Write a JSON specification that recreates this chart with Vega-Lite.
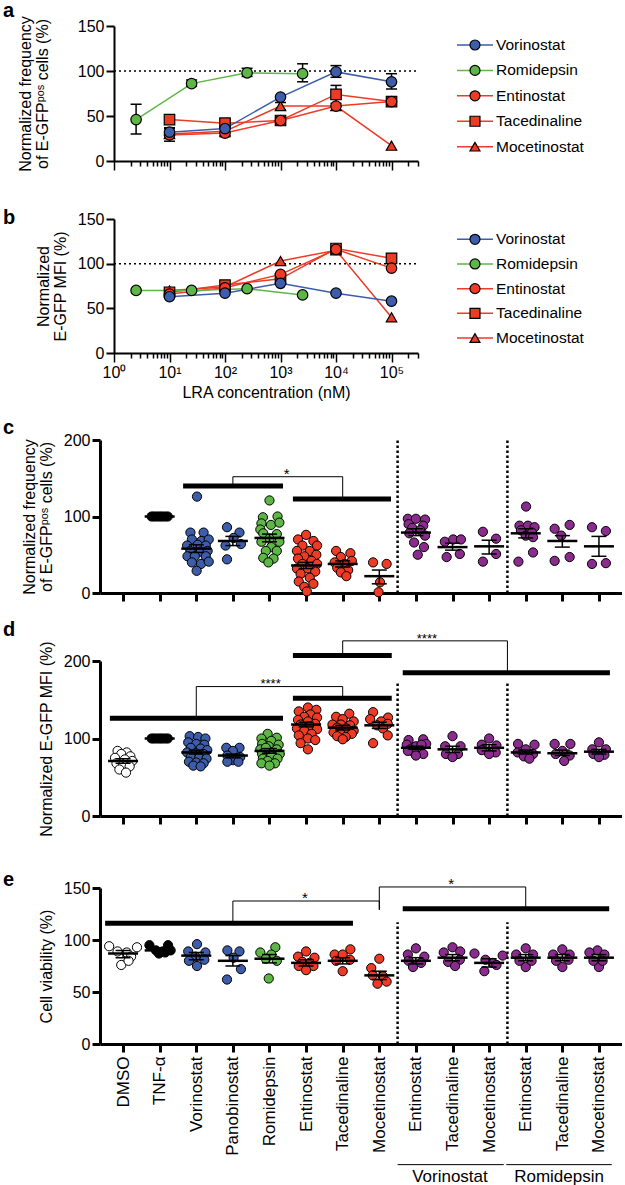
{
  "$schema": "https://vega.github.io/schema/vega-lite/v6.json",
  "background": "white",
  "padding": {"left": 3, "top": 0, "right": 0, "bottom": 0},
  "config": {
    "font": "Liberation Sans",
    "view": {"stroke": null},
    "axis": {"grid": false, "domainColor": "#000000", "tickColor": "#000000", "labelColor": "#000000", "titleColor": "#000000", "titleFontWeight": "normal", "labelFontSize": 16, "titleFontSize": 16, "titleLineHeight": 17, "labelPadding": 2},
    "title": {"fontSize": 20, "fontWeight": "bold", "anchor": "start", "frame": "group", "color": "#000000"},
    "tick": {"opacity": 1},
    "point": {"opacity": 1},
    "circle": {"opacity": 1}
  },
  "datasets": {
    "drugs": [{"drug": "Vorinostat"}, {"drug": "Romidepsin"}, {"drug": "Entinostat"}, {"drug": "Tacedinaline"}, {"drug": "Mocetinostat"}],
    "dose": [
      {"drug": "Mocetinostat", "conc": 10, "freq": 30, "mfi": 70},
      {"drug": "Mocetinostat", "conc": 100, "freq": 33, "mfi": 74},
      {"drug": "Mocetinostat", "conc": 1000, "freq": 61, "mfi": 103},
      {"drug": "Mocetinostat", "conc": 10000, "freq": 61, "mfi": 115},
      {"drug": "Mocetinostat", "conc": 100000, "freq": 17, "mfi": 40},
      {"drug": "Tacedinaline", "conc": 10, "freq": 46, "mfi": 68},
      {"drug": "Tacedinaline", "conc": 100, "freq": 42, "mfi": 76},
      {"drug": "Tacedinaline", "conc": 1000, "freq": 45, "mfi": 83},
      {"drug": "Tacedinaline", "conc": 10000, "freq": 74, "mfi": 117},
      {"drug": "Tacedinaline", "conc": 100000, "freq": 66, "mfi": 106},
      {"drug": "Entinostat", "conc": 10, "freq": 29, "mfi": 66},
      {"drug": "Entinostat", "conc": 100, "freq": 31, "mfi": 73},
      {"drug": "Entinostat", "conc": 1000, "freq": 45, "mfi": 88},
      {"drug": "Entinostat", "conc": 10000, "freq": 61, "mfi": 116},
      {"drug": "Entinostat", "conc": 100000, "freq": 66, "mfi": 95},
      {"drug": "Romidepsin", "conc": 2.5, "freq": 46, "mfi": 70},
      {"drug": "Romidepsin", "conc": 25, "freq": 86, "mfi": 70},
      {"drug": "Romidepsin", "conc": 250, "freq": 98, "mfi": 72},
      {"drug": "Romidepsin", "conc": 2500, "freq": 97, "mfi": 65},
      {"drug": "Vorinostat", "conc": 10, "freq": 32, "mfi": 63},
      {"drug": "Vorinostat", "conc": 100, "freq": 36, "mfi": 67},
      {"drug": "Vorinostat", "conc": 1000, "freq": 71, "mfi": 78},
      {"drug": "Vorinostat", "conc": 10000, "freq": 99, "mfi": 67},
      {"drug": "Vorinostat", "conc": 100000, "freq": 88, "mfi": 58}
    ],
    "doseErr": [
      {"drug": "Romidepsin", "conc": 2.5, "lo": 30, "hi": 63},
      {"drug": "Romidepsin", "conc": 25, "lo": 83, "hi": 90},
      {"drug": "Romidepsin", "conc": 250, "lo": 94, "hi": 103},
      {"drug": "Romidepsin", "conc": 2500, "lo": 88, "hi": 108},
      {"drug": "Vorinostat", "conc": 10, "lo": 27, "hi": 37},
      {"drug": "Vorinostat", "conc": 10000, "lo": 93, "hi": 106},
      {"drug": "Vorinostat", "conc": 100000, "lo": 80, "hi": 97},
      {"drug": "Entinostat", "conc": 10, "lo": 22, "hi": 36},
      {"drug": "Entinostat", "conc": 100, "lo": 27, "hi": 36},
      {"drug": "Tacedinaline", "conc": 10000, "lo": 64, "hi": 84},
      {"drug": "Tacedinaline", "conc": 100, "lo": 38, "hi": 46},
      {"drug": "Mocetinostat", "conc": 1000, "lo": 57, "hi": 65}
    ],
    "cPoints": [
      {"x": 1.78, "v": 100, "group": "TNF-α"}, {"x": 1.85, "v": 100, "group": "TNF-α"}, {"x": 1.93, "v": 100, "group": "TNF-α"}, {"x": 2.0, "v": 100, "group": "TNF-α"}, {"x": 2.07, "v": 100, "group": "TNF-α"}, {"x": 2.15, "v": 100, "group": "TNF-α"}, {"x": 2.22, "v": 100, "group": "TNF-α"},
      {"x": 3.02, "v": 126, "group": "pan-HDACi"}, {"x": 2.84, "v": 79, "group": "pan-HDACi"}, {"x": 3.2, "v": 79, "group": "pan-HDACi"}, {"x": 2.88, "v": 70, "group": "pan-HDACi"}, {"x": 3.14, "v": 68, "group": "pan-HDACi"}, {"x": 3.34, "v": 70, "group": "pan-HDACi"}, {"x": 2.75, "v": 62, "group": "pan-HDACi"}, {"x": 3.04, "v": 63, "group": "pan-HDACi"}, {"x": 3.26, "v": 62, "group": "pan-HDACi"}, {"x": 2.84, "v": 55, "group": "pan-HDACi"}, {"x": 3.11, "v": 54, "group": "pan-HDACi"}, {"x": 3.31, "v": 55, "group": "pan-HDACi"}, {"x": 2.76, "v": 48, "group": "pan-HDACi"}, {"x": 2.96, "v": 48, "group": "pan-HDACi"}, {"x": 3.26, "v": 48, "group": "pan-HDACi"}, {"x": 2.88, "v": 40, "group": "pan-HDACi"}, {"x": 3.13, "v": 38, "group": "pan-HDACi"}, {"x": 3.34, "v": 41, "group": "pan-HDACi"}, {"x": 3.01, "v": 29, "group": "pan-HDACi"},
      {"x": 3.84, "v": 86, "group": "pan-HDACi"}, {"x": 4.18, "v": 79, "group": "pan-HDACi"}, {"x": 4.02, "v": 72, "group": "pan-HDACi"}, {"x": 4.22, "v": 64, "group": "pan-HDACi"}, {"x": 3.8, "v": 62, "group": "pan-HDACi"}, {"x": 3.84, "v": 44, "group": "pan-HDACi"},
      {"x": 5.0, "v": 121, "group": "romidepsin"}, {"x": 4.82, "v": 99, "group": "romidepsin"}, {"x": 5.22, "v": 100, "group": "romidepsin"}, {"x": 4.78, "v": 91, "group": "romidepsin"}, {"x": 5.04, "v": 89, "group": "romidepsin"}, {"x": 5.27, "v": 92, "group": "romidepsin"}, {"x": 4.75, "v": 83, "group": "romidepsin"}, {"x": 4.83, "v": 78, "group": "romidepsin"}, {"x": 5.2, "v": 77, "group": "romidepsin"}, {"x": 5.0, "v": 71, "group": "romidepsin"}, {"x": 4.78, "v": 67, "group": "romidepsin"}, {"x": 5.27, "v": 67, "group": "romidepsin"}, {"x": 5.05, "v": 60, "group": "romidepsin"}, {"x": 4.9, "v": 55, "group": "romidepsin"}, {"x": 5.2, "v": 55, "group": "romidepsin"}, {"x": 4.83, "v": 46, "group": "romidepsin"}, {"x": 5.11, "v": 45, "group": "romidepsin"}, {"x": 4.97, "v": 40, "group": "romidepsin"},
      {"x": 6.0, "v": 76, "group": "class I HDACi"}, {"x": 5.78, "v": 70, "group": "class I HDACi"}, {"x": 6.2, "v": 68, "group": "class I HDACi"}, {"x": 6.3, "v": 62, "group": "class I HDACi"}, {"x": 5.9, "v": 62, "group": "class I HDACi"}, {"x": 5.75, "v": 55, "group": "class I HDACi"}, {"x": 6.1, "v": 55, "group": "class I HDACi"}, {"x": 6.28, "v": 50, "group": "class I HDACi"}, {"x": 5.95, "v": 48, "group": "class I HDACi"}, {"x": 5.78, "v": 45, "group": "class I HDACi"}, {"x": 6.15, "v": 42, "group": "class I HDACi"}, {"x": 5.9, "v": 38, "group": "class I HDACi"}, {"x": 6.3, "v": 38, "group": "class I HDACi"}, {"x": 5.75, "v": 32, "group": "class I HDACi"}, {"x": 6.05, "v": 32, "group": "class I HDACi"}, {"x": 6.25, "v": 28, "group": "class I HDACi"}, {"x": 5.85, "v": 25, "group": "class I HDACi"}, {"x": 6.1, "v": 20, "group": "class I HDACi"}, {"x": 5.8, "v": 15, "group": "class I HDACi"}, {"x": 6.2, "v": 12, "group": "class I HDACi"}, {"x": 5.95, "v": 8, "group": "class I HDACi"}, {"x": 6.02, "v": 2, "group": "class I HDACi"},
      {"x": 6.82, "v": 55, "group": "class I HDACi"}, {"x": 7.21, "v": 52, "group": "class I HDACi"}, {"x": 6.95, "v": 47, "group": "class I HDACi"}, {"x": 7.25, "v": 42, "group": "class I HDACi"}, {"x": 6.78, "v": 40, "group": "class I HDACi"}, {"x": 7.05, "v": 38, "group": "class I HDACi"}, {"x": 6.85, "v": 33, "group": "class I HDACi"}, {"x": 7.15, "v": 30, "group": "class I HDACi"}, {"x": 6.95, "v": 27, "group": "class I HDACi"}, {"x": 7.1, "v": 22, "group": "class I HDACi"},
      {"x": 7.83, "v": 40, "group": "class I HDACi"}, {"x": 8.2, "v": 38, "group": "class I HDACi"}, {"x": 8.02, "v": 14, "group": "class I HDACi"}, {"x": 7.98, "v": 1, "group": "class I HDACi"},
      {"x": 8.78, "v": 97, "group": "combination"}, {"x": 9.0, "v": 97, "group": "combination"}, {"x": 9.25, "v": 96, "group": "combination"}, {"x": 8.8, "v": 90, "group": "combination"}, {"x": 9.2, "v": 88, "group": "combination"}, {"x": 8.9, "v": 85, "group": "combination"}, {"x": 9.12, "v": 82, "group": "combination"}, {"x": 8.82, "v": 78, "group": "combination"}, {"x": 9.25, "v": 75, "group": "combination"}, {"x": 8.95, "v": 66, "group": "combination"}, {"x": 9.22, "v": 60, "group": "combination"}, {"x": 9.05, "v": 50, "group": "combination"},
      {"x": 9.79, "v": 67, "group": "combination"}, {"x": 10.02, "v": 70, "group": "combination"}, {"x": 10.23, "v": 70, "group": "combination"}, {"x": 9.84, "v": 47, "group": "combination"}, {"x": 10.2, "v": 51, "group": "combination"},
      {"x": 10.83, "v": 80, "group": "combination"}, {"x": 11.19, "v": 71, "group": "combination"}, {"x": 11.19, "v": 51, "group": "combination"}, {"x": 10.83, "v": 41, "group": "combination"},
      {"x": 12.01, "v": 113, "group": "combination"}, {"x": 11.83, "v": 88, "group": "combination"}, {"x": 12.06, "v": 88, "group": "combination"}, {"x": 12.24, "v": 86, "group": "combination"}, {"x": 11.87, "v": 82, "group": "combination"}, {"x": 12.17, "v": 79, "group": "combination"}, {"x": 12.0, "v": 75, "group": "combination"}, {"x": 12.2, "v": 73, "group": "combination"}, {"x": 12.2, "v": 53, "group": "combination"}, {"x": 11.8, "v": 41, "group": "combination"},
      {"x": 12.79, "v": 84, "group": "combination"}, {"x": 13.2, "v": 89, "group": "combination"}, {"x": 12.97, "v": 75, "group": "combination"}, {"x": 12.79, "v": 42, "group": "combination"}, {"x": 13.2, "v": 47, "group": "combination"},
      {"x": 13.81, "v": 86, "group": "combination"}, {"x": 14.19, "v": 81, "group": "combination"}, {"x": 13.81, "v": 38, "group": "combination"}, {"x": 14.19, "v": 39, "group": "combination"}
    ],
    "cMeans": [
      {"cat": 2, "mean": 100, "lo": 100, "hi": 100}, {"cat": 3, "mean": 58, "lo": 53, "hi": 63}, {"cat": 4, "mean": 68, "lo": 62, "hi": 74}, {"cat": 5, "mean": 72, "lo": 67, "hi": 77}, {"cat": 6, "mean": 36, "lo": 32, "hi": 40}, {"cat": 7, "mean": 38, "lo": 34, "hi": 42}, {"cat": 8, "mean": 22, "lo": 12, "hi": 30}, {"cat": 9, "mean": 79, "lo": 75, "hi": 84}, {"cat": 10, "mean": 60, "lo": 56, "hi": 65}, {"cat": 11, "mean": 61, "lo": 51, "hi": 69}, {"cat": 12, "mean": 78, "lo": 72, "hi": 84}, {"cat": 13, "mean": 68, "lo": 60, "hi": 75}, {"cat": 14, "mean": 61, "lo": 48, "hi": 74}
    ],
    "cBars": [{"x": 2.64, "x2": 5.37, "y": 140}, {"x": 5.64, "x2": 8.32, "y": 123}],
    "cBrackets": [{"x": 4, "x2": 4, "y": 140, "y2": 152}, {"x": 4, "x2": 7, "y": 152, "y2": 152}, {"x": 7, "x2": 7, "y": 152, "y2": 123}],
    "cStars": [{"x": 5.47, "y": 155, "label": "*"}],
    "dPoints": [
      {"x": 0.85, "v": 84, "group": "DMSO"}, {"x": 1.1, "v": 82, "group": "DMSO"}, {"x": 0.95, "v": 80, "group": "DMSO"}, {"x": 1.2, "v": 77, "group": "DMSO"}, {"x": 0.78, "v": 75, "group": "DMSO"}, {"x": 1.05, "v": 73, "group": "DMSO"}, {"x": 1.25, "v": 71, "group": "DMSO"}, {"x": 0.82, "v": 68, "group": "DMSO"}, {"x": 1.0, "v": 66, "group": "DMSO"}, {"x": 1.18, "v": 64, "group": "DMSO"}, {"x": 0.9, "v": 60, "group": "DMSO"}, {"x": 1.08, "v": 56, "group": "DMSO"},
      {"x": 1.78, "v": 100, "group": "TNF-α"}, {"x": 1.85, "v": 100, "group": "TNF-α"}, {"x": 1.93, "v": 100, "group": "TNF-α"}, {"x": 2.0, "v": 100, "group": "TNF-α"}, {"x": 2.07, "v": 100, "group": "TNF-α"}, {"x": 2.15, "v": 100, "group": "TNF-α"}, {"x": 2.22, "v": 100, "group": "TNF-α"},
      {"x": 2.82, "v": 103, "group": "pan-HDACi"}, {"x": 3.05, "v": 102, "group": "pan-HDACi"}, {"x": 3.25, "v": 100, "group": "pan-HDACi"}, {"x": 2.78, "v": 95, "group": "pan-HDACi"}, {"x": 3.0, "v": 93, "group": "pan-HDACi"}, {"x": 3.22, "v": 92, "group": "pan-HDACi"}, {"x": 2.85, "v": 88, "group": "pan-HDACi"}, {"x": 3.12, "v": 87, "group": "pan-HDACi"}, {"x": 3.3, "v": 85, "group": "pan-HDACi"}, {"x": 2.75, "v": 82, "group": "pan-HDACi"}, {"x": 2.98, "v": 81, "group": "pan-HDACi"}, {"x": 3.2, "v": 80, "group": "pan-HDACi"}, {"x": 2.85, "v": 76, "group": "pan-HDACi"}, {"x": 3.08, "v": 75, "group": "pan-HDACi"}, {"x": 3.28, "v": 74, "group": "pan-HDACi"}, {"x": 2.8, "v": 70, "group": "pan-HDACi"}, {"x": 3.0, "v": 69, "group": "pan-HDACi"}, {"x": 3.2, "v": 68, "group": "pan-HDACi"}, {"x": 2.92, "v": 65, "group": "pan-HDACi"}, {"x": 3.12, "v": 64, "group": "pan-HDACi"},
      {"x": 3.82, "v": 88, "group": "pan-HDACi"}, {"x": 4.18, "v": 88, "group": "pan-HDACi"}, {"x": 4.0, "v": 84, "group": "pan-HDACi"}, {"x": 3.85, "v": 78, "group": "pan-HDACi"}, {"x": 4.2, "v": 76, "group": "pan-HDACi"}, {"x": 4.0, "v": 72, "group": "pan-HDACi"}, {"x": 3.85, "v": 70, "group": "pan-HDACi"}, {"x": 4.15, "v": 70, "group": "pan-HDACi"},
      {"x": 4.95, "v": 106, "group": "romidepsin"}, {"x": 4.78, "v": 100, "group": "romidepsin"}, {"x": 5.2, "v": 101, "group": "romidepsin"}, {"x": 5.05, "v": 97, "group": "romidepsin"}, {"x": 4.8, "v": 93, "group": "romidepsin"}, {"x": 5.25, "v": 92, "group": "romidepsin"}, {"x": 4.98, "v": 90, "group": "romidepsin"}, {"x": 4.75, "v": 86, "group": "romidepsin"}, {"x": 5.2, "v": 86, "group": "romidepsin"}, {"x": 5.0, "v": 83, "group": "romidepsin"}, {"x": 4.8, "v": 80, "group": "romidepsin"}, {"x": 5.28, "v": 80, "group": "romidepsin"}, {"x": 5.05, "v": 77, "group": "romidepsin"}, {"x": 4.82, "v": 74, "group": "romidepsin"}, {"x": 5.22, "v": 74, "group": "romidepsin"}, {"x": 4.95, "v": 71, "group": "romidepsin"}, {"x": 4.78, "v": 68, "group": "romidepsin"}, {"x": 5.15, "v": 68, "group": "romidepsin"}, {"x": 5.0, "v": 65, "group": "romidepsin"}, {"x": 4.9, "v": 88, "group": "romidepsin"},
      {"x": 6.05, "v": 140, "group": "class I HDACi"}, {"x": 6.28, "v": 137, "group": "class I HDACi"}, {"x": 5.8, "v": 135, "group": "class I HDACi"}, {"x": 6.12, "v": 131, "group": "class I HDACi"}, {"x": 5.95, "v": 128, "group": "class I HDACi"}, {"x": 6.3, "v": 127, "group": "class I HDACi"}, {"x": 5.78, "v": 124, "group": "class I HDACi"}, {"x": 6.05, "v": 122, "group": "class I HDACi"}, {"x": 6.25, "v": 119, "group": "class I HDACi"}, {"x": 5.85, "v": 118, "group": "class I HDACi"}, {"x": 6.1, "v": 116, "group": "class I HDACi"}, {"x": 5.75, "v": 113, "group": "class I HDACi"}, {"x": 6.3, "v": 112, "group": "class I HDACi"}, {"x": 5.95, "v": 110, "group": "class I HDACi"}, {"x": 6.15, "v": 106, "group": "class I HDACi"}, {"x": 5.8, "v": 104, "group": "class I HDACi"}, {"x": 6.05, "v": 100, "group": "class I HDACi"}, {"x": 6.25, "v": 98, "group": "class I HDACi"}, {"x": 5.85, "v": 94, "group": "class I HDACi"}, {"x": 6.05, "v": 86, "group": "class I HDACi"},
      {"x": 7.18, "v": 132, "group": "class I HDACi"}, {"x": 6.82, "v": 128, "group": "class I HDACi"}, {"x": 7.0, "v": 125, "group": "class I HDACi"}, {"x": 7.3, "v": 122, "group": "class I HDACi"}, {"x": 6.72, "v": 118, "group": "class I HDACi"}, {"x": 6.95, "v": 118, "group": "class I HDACi"}, {"x": 7.2, "v": 117, "group": "class I HDACi"}, {"x": 6.85, "v": 114, "group": "class I HDACi"}, {"x": 7.1, "v": 113, "group": "class I HDACi"}, {"x": 7.3, "v": 110, "group": "class I HDACi"}, {"x": 6.75, "v": 108, "group": "class I HDACi"}, {"x": 6.95, "v": 106, "group": "class I HDACi"}, {"x": 7.25, "v": 106, "group": "class I HDACi"}, {"x": 6.85, "v": 103, "group": "class I HDACi"}, {"x": 7.08, "v": 102, "group": "class I HDACi"}, {"x": 7.0, "v": 99, "group": "class I HDACi"},
      {"x": 7.83, "v": 134, "group": "class I HDACi"}, {"x": 8.24, "v": 127, "group": "class I HDACi"}, {"x": 7.75, "v": 125, "group": "class I HDACi"}, {"x": 8.05, "v": 122, "group": "class I HDACi"}, {"x": 8.23, "v": 119, "group": "class I HDACi"}, {"x": 7.94, "v": 117, "group": "class I HDACi"}, {"x": 8.1, "v": 113, "group": "class I HDACi"}, {"x": 8.23, "v": 104, "group": "class I HDACi"}, {"x": 7.83, "v": 94, "group": "class I HDACi"},
      {"x": 8.8, "v": 98, "group": "combination"}, {"x": 9.2, "v": 99, "group": "combination"}, {"x": 8.75, "v": 92, "group": "combination"}, {"x": 9.0, "v": 90, "group": "combination"}, {"x": 9.28, "v": 93, "group": "combination"}, {"x": 8.85, "v": 86, "group": "combination"}, {"x": 9.1, "v": 85, "group": "combination"}, {"x": 8.95, "v": 82, "group": "combination"}, {"x": 9.2, "v": 80, "group": "combination"}, {"x": 9.0, "v": 78, "group": "combination"}, {"x": 8.78, "v": 84, "group": "combination"}, {"x": 9.15, "v": 92, "group": "combination"},
      {"x": 10.0, "v": 103, "group": "combination"}, {"x": 9.8, "v": 90, "group": "combination"}, {"x": 10.22, "v": 90, "group": "combination"}, {"x": 9.82, "v": 80, "group": "combination"}, {"x": 10.15, "v": 80, "group": "combination"}, {"x": 10.0, "v": 76, "group": "combination"},
      {"x": 11.0, "v": 100, "group": "combination"}, {"x": 10.8, "v": 92, "group": "combination"}, {"x": 11.2, "v": 91, "group": "combination"}, {"x": 10.8, "v": 85, "group": "combination"}, {"x": 11.18, "v": 82, "group": "combination"}, {"x": 11.0, "v": 80, "group": "combination"},
      {"x": 11.79, "v": 93, "group": "combination"}, {"x": 12.24, "v": 92, "group": "combination"}, {"x": 12.0, "v": 86, "group": "combination"}, {"x": 11.78, "v": 82, "group": "combination"}, {"x": 12.2, "v": 80, "group": "combination"}, {"x": 11.95, "v": 77, "group": "combination"}, {"x": 12.1, "v": 74, "group": "combination"},
      {"x": 12.79, "v": 93, "group": "combination"}, {"x": 13.22, "v": 93, "group": "combination"}, {"x": 13.0, "v": 84, "group": "combination"}, {"x": 12.82, "v": 80, "group": "combination"}, {"x": 13.2, "v": 78, "group": "combination"}, {"x": 13.05, "v": 71, "group": "combination"},
      {"x": 14.0, "v": 95, "group": "combination"}, {"x": 13.82, "v": 86, "group": "combination"}, {"x": 14.19, "v": 86, "group": "combination"}, {"x": 13.85, "v": 80, "group": "combination"}, {"x": 14.15, "v": 79, "group": "combination"}, {"x": 14.0, "v": 76, "group": "combination"}
    ],
    "dMeans": [
      {"cat": 1, "mean": 71, "lo": 68, "hi": 74}, {"cat": 2, "mean": 100, "lo": 100, "hi": 100}, {"cat": 3, "mean": 82, "lo": 80, "hi": 85}, {"cat": 4, "mean": 78, "lo": 75, "hi": 80}, {"cat": 5, "mean": 84, "lo": 81, "hi": 87}, {"cat": 6, "mean": 118, "lo": 115, "hi": 121}, {"cat": 7, "mean": 114, "lo": 111, "hi": 117}, {"cat": 8, "mean": 117, "lo": 113, "hi": 121}, {"cat": 9, "mean": 88, "lo": 86, "hi": 90}, {"cat": 10, "mean": 86, "lo": 82, "hi": 90}, {"cat": 11, "mean": 88, "lo": 84, "hi": 92}, {"cat": 12, "mean": 82, "lo": 80, "hi": 85}, {"cat": 13, "mean": 81, "lo": 78, "hi": 85}, {"cat": 14, "mean": 83, "lo": 80, "hi": 86}
    ],
    "dBars": [{"x": 0.64, "x2": 5.37, "y": 126}, {"x": 5.64, "x2": 8.34, "y": 152}, {"x": 5.64, "x2": 8.34, "y": 207}, {"x": 8.64, "x2": 14.3, "y": 185}],
    "dBrackets": [{"x": 3, "x2": 3, "y": 126, "y2": 167}, {"x": 3, "x2": 7, "y": 167, "y2": 167}, {"x": 7, "x2": 7, "y": 167, "y2": 152}, {"x": 7, "x2": 7, "y": 207, "y2": 226}, {"x": 7, "x2": 11.5, "y": 226, "y2": 226}, {"x": 11.5, "x2": 11.5, "y": 226, "y2": 185}],
    "dStars": [{"x": 5.03, "y": 170, "label": "****"}, {"x": 9.3, "y": 229, "label": "****"}],
    "ePoints": [
      {"x": 0.62, "v": 94, "group": "DMSO"}, {"x": 0.85, "v": 89, "group": "DMSO"}, {"x": 1.1, "v": 88, "group": "DMSO"}, {"x": 1.38, "v": 93, "group": "DMSO"}, {"x": 1.22, "v": 84, "group": "DMSO"}, {"x": 0.95, "v": 76, "group": "DMSO"}, {"x": 1.15, "v": 80, "group": "DMSO"},
      {"x": 1.72, "v": 95, "group": "TNF-α"}, {"x": 2.23, "v": 95, "group": "TNF-α"}, {"x": 1.9, "v": 90, "group": "TNF-α"}, {"x": 2.08, "v": 89, "group": "TNF-α"}, {"x": 2.3, "v": 90, "group": "TNF-α"}, {"x": 1.98, "v": 87, "group": "TNF-α"}, {"x": 2.15, "v": 88, "group": "TNF-α"},
      {"x": 3.02, "v": 96, "group": "pan-HDACi"}, {"x": 2.78, "v": 89, "group": "pan-HDACi"}, {"x": 3.25, "v": 88, "group": "pan-HDACi"}, {"x": 2.98, "v": 84, "group": "pan-HDACi"}, {"x": 2.8, "v": 80, "group": "pan-HDACi"}, {"x": 3.22, "v": 81, "group": "pan-HDACi"}, {"x": 3.02, "v": 75, "group": "pan-HDACi"},
      {"x": 3.85, "v": 90, "group": "pan-HDACi"}, {"x": 4.18, "v": 89, "group": "pan-HDACi"}, {"x": 4.02, "v": 83, "group": "pan-HDACi"}, {"x": 4.22, "v": 72, "group": "pan-HDACi"}, {"x": 3.84, "v": 62, "group": "pan-HDACi"},
      {"x": 5.16, "v": 93, "group": "romidepsin"}, {"x": 4.75, "v": 88, "group": "romidepsin"}, {"x": 5.05, "v": 86, "group": "romidepsin"}, {"x": 4.9, "v": 82, "group": "romidepsin"}, {"x": 5.2, "v": 80, "group": "romidepsin"}, {"x": 4.98, "v": 63, "group": "romidepsin"},
      {"x": 6.0, "v": 89, "group": "class I HDACi"}, {"x": 5.78, "v": 84, "group": "class I HDACi"}, {"x": 6.23, "v": 83, "group": "class I HDACi"}, {"x": 5.9, "v": 79, "group": "class I HDACi"}, {"x": 6.1, "v": 78, "group": "class I HDACi"}, {"x": 5.8, "v": 75, "group": "class I HDACi"}, {"x": 6.2, "v": 75, "group": "class I HDACi"}, {"x": 6.0, "v": 71, "group": "class I HDACi"},
      {"x": 7.21, "v": 91, "group": "class I HDACi"}, {"x": 6.78, "v": 86, "group": "class I HDACi"}, {"x": 7.0, "v": 86, "group": "class I HDACi"}, {"x": 6.82, "v": 80, "group": "class I HDACi"}, {"x": 7.2, "v": 81, "group": "class I HDACi"}, {"x": 7.0, "v": 70, "group": "class I HDACi"},
      {"x": 8.0, "v": 82, "group": "class I HDACi"}, {"x": 7.78, "v": 73, "group": "class I HDACi"}, {"x": 7.82, "v": 66, "group": "class I HDACi"}, {"x": 8.1, "v": 65, "group": "class I HDACi"}, {"x": 8.2, "v": 60, "group": "class I HDACi"}, {"x": 7.95, "v": 58, "group": "class I HDACi"},
      {"x": 9.0, "v": 92, "group": "combination"}, {"x": 8.78, "v": 86, "group": "combination"}, {"x": 9.23, "v": 84, "group": "combination"}, {"x": 8.8, "v": 80, "group": "combination"}, {"x": 9.14, "v": 78, "group": "combination"}, {"x": 8.92, "v": 74, "group": "combination"},
      {"x": 10.0, "v": 93, "group": "combination"}, {"x": 9.76, "v": 88, "group": "combination"}, {"x": 10.21, "v": 89, "group": "combination"}, {"x": 9.88, "v": 79, "group": "combination"}, {"x": 10.2, "v": 81, "group": "combination"}, {"x": 10.07, "v": 75, "group": "combination"},
      {"x": 10.6, "v": 87, "group": "combination"}, {"x": 11.37, "v": 85, "group": "combination"}, {"x": 11.1, "v": 78, "group": "combination"}, {"x": 10.87, "v": 70, "group": "combination"}, {"x": 10.9, "v": 81, "group": "combination"}, {"x": 11.2, "v": 76, "group": "combination"},
      {"x": 12.0, "v": 92, "group": "combination"}, {"x": 11.74, "v": 86, "group": "combination"}, {"x": 12.2, "v": 86, "group": "combination"}, {"x": 12.0, "v": 74, "group": "combination"}, {"x": 11.83, "v": 80, "group": "combination"}, {"x": 12.16, "v": 80, "group": "combination"},
      {"x": 13.0, "v": 91, "group": "combination"}, {"x": 12.75, "v": 86, "group": "combination"}, {"x": 13.2, "v": 86, "group": "combination"}, {"x": 13.0, "v": 74, "group": "combination"}, {"x": 12.83, "v": 80, "group": "combination"}, {"x": 13.17, "v": 81, "group": "combination"},
      {"x": 13.96, "v": 90, "group": "combination"}, {"x": 13.74, "v": 88, "group": "combination"}, {"x": 14.15, "v": 86, "group": "combination"}, {"x": 14.0, "v": 74, "group": "combination"}, {"x": 13.85, "v": 80, "group": "combination"}, {"x": 14.1, "v": 80, "group": "combination"}
    ],
    "eMeans": [
      {"cat": 1, "mean": 87, "lo": 83, "hi": 90}, {"cat": 2, "mean": 90, "lo": 89, "hi": 92}, {"cat": 3, "mean": 85, "lo": 81, "hi": 88}, {"cat": 4, "mean": 80, "lo": 75, "hi": 85}, {"cat": 5, "mean": 82, "lo": 78, "hi": 86}, {"cat": 6, "mean": 78, "lo": 75, "hi": 81}, {"cat": 7, "mean": 80, "lo": 77, "hi": 83}, {"cat": 8, "mean": 66, "lo": 62, "hi": 70}, {"cat": 9, "mean": 80, "lo": 77, "hi": 83}, {"cat": 10, "mean": 83, "lo": 80, "hi": 86}, {"cat": 11, "mean": 78, "lo": 74, "hi": 82}, {"cat": 12, "mean": 83, "lo": 80, "hi": 86}, {"cat": 13, "mean": 83, "lo": 80, "hi": 86}, {"cat": 14, "mean": 83, "lo": 80, "hi": 86}
    ],
    "eBars": [{"x": 0.51, "x2": 7.28, "y": 116}, {"x": 8.64, "x2": 14.28, "y": 130}],
    "eBrackets": [{"x": 4, "x2": 4, "y": 116, "y2": 137.5}, {"x": 4, "x2": 8, "y": 137.5, "y2": 137.5}, {"x": 8, "x2": 8, "y": 137.5, "y2": 129}, {"x": 8, "x2": 8, "y": 129, "y2": 151}, {"x": 8, "x2": 12, "y": 151, "y2": 151}, {"x": 12, "x2": 12, "y": 151, "y2": 130}],
    "eStars": [{"x": 5.97, "y": 140, "label": "*"}, {"x": 9.96, "y": 153.5, "label": "*"}],
    "combos": [{"label": "Vorinostat", "from": 8.5, "to": 11.4, "mid": 9.93}, {"label": "Romidepsin", "from": 11.47, "to": 14.35, "mid": 12.91}]
  },
  "columns": 1,
  "align": "none",
  "spacing": 36,
  "concat": [
    {
      "title": {"text": "a", "dx": -97, "offset": -5},
      "width": 318, "height": 135,
      "resolve": {"scale": {"x": "independent", "y": "independent"}},
      "layer": [
        {"layer": [
          {"data": {"values": [{"ref": 100}]}, "mark": {"type": "rule", "strokeDash": [2, 3], "strokeWidth": 1.5, "color": "#000000"},
           "encoding": {"x": {"datum": 1, "type": "quantitative"}, "x2": {"datum": 300000},
             "y": {"field": "ref", "type": "quantitative", "scale": {"domain": [0, 150], "nice": false}, "axis": {"title": ["Normalized frequency", "of E-GFPᵖᵒˢ cells (%)"], "values": [0, 50, 100, 150], "offset": -14, "tickSize": 8, "tickWidth": 2, "domainWidth": 2, "titlePadding": 27}}}},
          {"data": {"name": "dose"}, "mark": {"type": "line", "strokeWidth": 1.5},
           "encoding": {"x": {"field": "conc", "type": "quantitative", "scale": {"type": "log", "domain": [1, 300000], "range": [14, 318], "nice": false}, "axis": {"title": null, "labels": false, "tickWidth": 1.5, "domainWidth": 2, "tickSize": {"condition": {"test": "abs(log(datum.value)/LN10 - round(log(datum.value)/LN10)) < 0.001", "value": 9}, "value": 5}}},
             "y": {"field": "freq", "type": "quantitative"},
             "color": {"field": "drug", "type": "nominal", "legend": null, "scale": {"domain": ["Vorinostat", "Romidepsin", "Entinostat", "Tacedinaline", "Mocetinostat", "DMSO", "TNF-α", "pan-HDACi", "romidepsin", "class I HDACi", "combination"], "range": ["#3d5ca9", "#5db646", "#ed3b26", "#ed3b26", "#ed3b26", "#ffffff", "#000000", "#3d5ca9", "#5db646", "#ed3b26", "#8b2b8e"]}}}},
          {"data": {"name": "doseErr"}, "mark": {"type": "rule", "strokeWidth": 1.5, "color": "#000000"},
           "encoding": {"x": {"field": "conc", "type": "quantitative"}, "y": {"field": "lo", "type": "quantitative"}, "y2": {"field": "hi"}}},
          {"data": {"name": "doseErr"}, "mark": {"type": "tick", "orient": "horizontal", "size": 11, "thickness": 1.5, "color": "#000000", "opacity": 1},
           "encoding": {"x": {"field": "conc", "type": "quantitative"}, "y": {"field": "lo", "type": "quantitative"}}},
          {"data": {"name": "doseErr"}, "mark": {"type": "tick", "orient": "horizontal", "size": 11, "thickness": 1.5, "color": "#000000", "opacity": 1},
           "encoding": {"x": {"field": "conc", "type": "quantitative"}, "y": {"field": "hi", "type": "quantitative"}}},
          {"data": {"name": "dose"}, "mark": {"type": "point", "filled": true, "size": 110, "stroke": "#000000", "strokeWidth": 1.2, "opacity": 1},
           "encoding": {"x": {"field": "conc", "type": "quantitative"}, "y": {"field": "freq", "type": "quantitative"},
             "color": {"field": "drug", "type": "nominal", "legend": null, "scale": {"domain": ["Vorinostat", "Romidepsin", "Entinostat", "Tacedinaline", "Mocetinostat", "DMSO", "TNF-α", "pan-HDACi", "romidepsin", "class I HDACi", "combination"], "range": ["#3d5ca9", "#5db646", "#ed3b26", "#ed3b26", "#ed3b26", "#ffffff", "#000000", "#3d5ca9", "#5db646", "#ed3b26", "#8b2b8e"]}},
             "shape": {"field": "drug", "type": "nominal", "legend": null, "scale": {"domain": ["Vorinostat", "Romidepsin", "Entinostat", "Tacedinaline", "Mocetinostat"], "range": ["circle", "circle", "circle", "square", "triangle-up"]}}}}
        ]},
        {"data": {"name": "drugs"},
         "encoding": {"y": {"field": "drug", "type": "nominal", "sort": null, "scale": {"type": "point", "padding": 0.655, "align": 0.57}, "axis": null}},
         "layer": [
          {"mark": {"type": "rule", "strokeWidth": 1.5},
           "encoding": {"x": {"datum": 1.1226, "type": "quantitative", "scale": {"domain": [0, 1], "nice": false, "zero": false}, "axis": null}, "x2": {"datum": 1.2358},
             "color": {"field": "drug", "type": "nominal", "legend": null, "scale": {"domain": ["Vorinostat", "Romidepsin", "Entinostat", "Tacedinaline", "Mocetinostat", "DMSO", "TNF-α", "pan-HDACi", "romidepsin", "class I HDACi", "combination"], "range": ["#3d5ca9", "#5db646", "#ed3b26", "#ed3b26", "#ed3b26", "#ffffff", "#000000", "#3d5ca9", "#5db646", "#ed3b26", "#8b2b8e"]}}}},
          {"mark": {"type": "point", "filled": true, "size": 100, "stroke": "#000000", "strokeWidth": 1.2, "opacity": 1},
           "encoding": {"x": {"datum": 1.1792, "type": "quantitative", "axis": null},
             "color": {"field": "drug", "type": "nominal", "legend": null, "scale": {"domain": ["Vorinostat", "Romidepsin", "Entinostat", "Tacedinaline", "Mocetinostat", "DMSO", "TNF-α", "pan-HDACi", "romidepsin", "class I HDACi", "combination"], "range": ["#3d5ca9", "#5db646", "#ed3b26", "#ed3b26", "#ed3b26", "#ffffff", "#000000", "#3d5ca9", "#5db646", "#ed3b26", "#8b2b8e"]}},
             "shape": {"field": "drug", "type": "nominal", "legend": null, "scale": {"domain": ["Vorinostat", "Romidepsin", "Entinostat", "Tacedinaline", "Mocetinostat"], "range": ["circle", "circle", "circle", "square", "triangle-up"]}}}},
          {"mark": {"type": "text", "align": "left", "baseline": "middle", "fontSize": 15.5, "color": "#000000"},
           "encoding": {"x": {"datum": 1.2453, "type": "quantitative", "axis": null}, "text": {"field": "drug"}}}
         ]}
      ]
    },
    {
      "columns": 1,
      "align": "none",
      "spacing": 18,
      "concat": [
        {
          "title": {"text": "b", "dx": -97, "offset": -17},
          "width": 318, "height": 134,
          "resolve": {"scale": {"x": "independent", "y": "independent"}},
          "layer": [
            {"layer": [
              {"data": {"values": [{"ref": 100}]}, "mark": {"type": "rule", "strokeDash": [2, 3], "strokeWidth": 1.5, "color": "#000000"},
               "encoding": {"x": {"datum": 1, "type": "quantitative"}, "x2": {"datum": 300000},
                 "y": {"field": "ref", "type": "quantitative", "scale": {"domain": [0, 150], "nice": false}, "axis": {"title": ["Normalized", "E-GFP MFI (%)"], "values": [0, 50, 100, 150], "offset": -14, "tickSize": 8, "tickWidth": 2, "domainWidth": 2, "titlePadding": 9}}}},
              {"data": {"name": "dose"}, "mark": {"type": "line", "strokeWidth": 1.5},
               "encoding": {"x": {"field": "conc", "type": "quantitative", "scale": {"type": "log", "domain": [1, 300000], "range": [14, 318], "nice": false}, "axis": {"title": "LRA concentration (nM)", "titlePadding": 4, "labelOverlap": false, "labelFlush": false, "labelPadding": 2, "labelExpr": "abs(log(datum.value)/LN10 - round(log(datum.value)/LN10)) < 0.001 ? '10' + ['⁰','¹','²','³','⁴','⁵'][round(log(datum.value)/LN10)] : ''", "tickWidth": 1.5, "domainWidth": 2, "tickSize": {"condition": {"test": "abs(log(datum.value)/LN10 - round(log(datum.value)/LN10)) < 0.001", "value": 9}, "value": 5}}},
                 "y": {"field": "mfi", "type": "quantitative"},
                 "color": {"field": "drug", "type": "nominal", "legend": null, "scale": {"domain": ["Vorinostat", "Romidepsin", "Entinostat", "Tacedinaline", "Mocetinostat", "DMSO", "TNF-α", "pan-HDACi", "romidepsin", "class I HDACi", "combination"], "range": ["#3d5ca9", "#5db646", "#ed3b26", "#ed3b26", "#ed3b26", "#ffffff", "#000000", "#3d5ca9", "#5db646", "#ed3b26", "#8b2b8e"]}}}},
              {"data": {"name": "dose"}, "mark": {"type": "point", "filled": true, "size": 110, "stroke": "#000000", "strokeWidth": 1.2, "opacity": 1},
               "encoding": {"x": {"field": "conc", "type": "quantitative"}, "y": {"field": "mfi", "type": "quantitative"},
                 "color": {"field": "drug", "type": "nominal", "legend": null, "scale": {"domain": ["Vorinostat", "Romidepsin", "Entinostat", "Tacedinaline", "Mocetinostat", "DMSO", "TNF-α", "pan-HDACi", "romidepsin", "class I HDACi", "combination"], "range": ["#3d5ca9", "#5db646", "#ed3b26", "#ed3b26", "#ed3b26", "#ffffff", "#000000", "#3d5ca9", "#5db646", "#ed3b26", "#8b2b8e"]}},
                 "shape": {"field": "drug", "type": "nominal", "legend": null, "scale": {"domain": ["Vorinostat", "Romidepsin", "Entinostat", "Tacedinaline", "Mocetinostat"], "range": ["circle", "circle", "circle", "square", "triangle-up"]}}}}
            ]},
            {"data": {"name": "drugs"},
             "encoding": {"y": {"field": "drug", "type": "nominal", "sort": null, "scale": {"type": "point", "padding": 0.715, "align": 0.575}, "axis": null}},
             "layer": [
              {"mark": {"type": "rule", "strokeWidth": 1.5},
               "encoding": {"x": {"datum": 1.1226, "type": "quantitative", "scale": {"domain": [0, 1], "nice": false, "zero": false}, "axis": null}, "x2": {"datum": 1.2358},
                 "color": {"field": "drug", "type": "nominal", "legend": null, "scale": {"domain": ["Vorinostat", "Romidepsin", "Entinostat", "Tacedinaline", "Mocetinostat", "DMSO", "TNF-α", "pan-HDACi", "romidepsin", "class I HDACi", "combination"], "range": ["#3d5ca9", "#5db646", "#ed3b26", "#ed3b26", "#ed3b26", "#ffffff", "#000000", "#3d5ca9", "#5db646", "#ed3b26", "#8b2b8e"]}}}},
              {"mark": {"type": "point", "filled": true, "size": 100, "stroke": "#000000", "strokeWidth": 1.2, "opacity": 1},
               "encoding": {"x": {"datum": 1.1792, "type": "quantitative", "axis": null},
                 "color": {"field": "drug", "type": "nominal", "legend": null, "scale": {"domain": ["Vorinostat", "Romidepsin", "Entinostat", "Tacedinaline", "Mocetinostat", "DMSO", "TNF-α", "pan-HDACi", "romidepsin", "class I HDACi", "combination"], "range": ["#3d5ca9", "#5db646", "#ed3b26", "#ed3b26", "#ed3b26", "#ffffff", "#000000", "#3d5ca9", "#5db646", "#ed3b26", "#8b2b8e"]}},
                 "shape": {"field": "drug", "type": "nominal", "legend": null, "scale": {"domain": ["Vorinostat", "Romidepsin", "Entinostat", "Tacedinaline", "Mocetinostat"], "range": ["circle", "circle", "circle", "square", "triangle-up"]}}}},
              {"mark": {"type": "text", "align": "left", "baseline": "middle", "fontSize": 15.5, "color": "#000000"},
               "encoding": {"x": {"datum": 1.2453, "type": "quantitative", "axis": null}, "text": {"field": "drug"}}}
             ]}
          ]
        },
        {
          "columns": 1,
          "align": "none",
          "spacing": 16,
          "concat": [
            {
              "title": {"text": "c", "dx": -97, "offset": -6},
              "width": 522, "height": 153,
              "layer": [
                {"data": {"values": [{"sx": 8.5, "y0": 0, "y1": 200}, {"sx": 11.5, "y0": 0, "y1": 200}]}, "mark": {"type": "rule", "strokeDash": [2.5, 2.5], "strokeWidth": 2.5, "color": "#000000"},
                 "encoding": {"x": {"field": "sx", "type": "quantitative", "scale": {"domain": [0.37, 14.63], "nice": false, "zero": false}, "axis": {"title": null, "values": [1, 2, 3, 4, 5, 6, 7, 8, 9, 10, 11, 12, 13, 14], "labels": false, "tickSize": 8, "tickWidth": 3, "domainWidth": 3}},
                   "y": {"field": "y0", "type": "quantitative", "scale": {"domain": [0, 200], "nice": false}, "axis": {"title": ["Normalized frequency", "of E-GFPᵖᵒˢ cells (%)"], "values": [0, 100, 200], "tickSize": 8, "tickWidth": 3, "domainWidth": 3, "titlePadding": 9}},
                   "y2": {"field": "y1"}}},
                {"data": {"name": "cPoints"}, "mark": {"type": "circle", "size": 85, "stroke": "#000000", "strokeWidth": 1, "opacity": 1},
                 "encoding": {"x": {"field": "x", "type": "quantitative"}, "y": {"field": "v", "type": "quantitative"},
                   "color": {"field": "group", "type": "nominal", "legend": null, "scale": {"domain": ["Vorinostat", "Romidepsin", "Entinostat", "Tacedinaline", "Mocetinostat", "DMSO", "TNF-α", "pan-HDACi", "romidepsin", "class I HDACi", "combination"], "range": ["#3d5ca9", "#5db646", "#ed3b26", "#ed3b26", "#ed3b26", "#ffffff", "#000000", "#3d5ca9", "#5db646", "#ed3b26", "#8b2b8e"]}}}},
                {"data": {"name": "cMeans"}, "mark": {"type": "tick", "orient": "horizontal", "size": 30, "thickness": 2.5, "color": "#000000", "opacity": 1},
                 "encoding": {"x": {"field": "cat", "type": "quantitative"}, "y": {"field": "mean", "type": "quantitative"}}},
                {"data": {"name": "cMeans"}, "mark": {"type": "rule", "strokeWidth": 1.5, "color": "#000000"},
                 "encoding": {"x": {"field": "cat", "type": "quantitative"}, "y": {"field": "lo", "type": "quantitative"}, "y2": {"field": "hi"}}},
                {"data": {"name": "cMeans"}, "mark": {"type": "tick", "orient": "horizontal", "size": 15, "thickness": 1.5, "color": "#000000", "opacity": 1},
                 "encoding": {"x": {"field": "cat", "type": "quantitative"}, "y": {"field": "lo", "type": "quantitative"}}},
                {"data": {"name": "cMeans"}, "mark": {"type": "tick", "orient": "horizontal", "size": 15, "thickness": 1.5, "color": "#000000", "opacity": 1},
                 "encoding": {"x": {"field": "cat", "type": "quantitative"}, "y": {"field": "hi", "type": "quantitative"}}},
                {"data": {"name": "cBars"}, "mark": {"type": "rule", "strokeWidth": 5, "color": "#000000"},
                 "encoding": {"x": {"field": "x", "type": "quantitative"}, "x2": {"field": "x2"}, "y": {"field": "y", "type": "quantitative"}}},
                {"data": {"name": "cBrackets"}, "mark": {"type": "rule", "strokeWidth": 1, "color": "#000000"},
                 "encoding": {"x": {"field": "x", "type": "quantitative"}, "x2": {"field": "x2"}, "y": {"field": "y", "type": "quantitative"}, "y2": {"field": "y2"}}},
                {"data": {"name": "cStars"}, "mark": {"type": "text", "fontSize": 15, "baseline": "middle", "color": "#000000"},
                 "encoding": {"x": {"field": "x", "type": "quantitative"}, "y": {"field": "y", "type": "quantitative"}, "text": {"field": "label"}}}
              ]
            },
            {
              "columns": 1,
              "align": "none",
              "spacing": 33,
              "concat": [
                {
                  "title": {"text": "d", "dx": -97, "offset": -7},
                  "width": 522, "height": 155,
                  "layer": [
                    {"data": {"values": [{"sx": 8.5, "y0": 0, "y1": 173}, {"sx": 11.5, "y0": 0, "y1": 173}]}, "mark": {"type": "rule", "strokeDash": [2.5, 2.5], "strokeWidth": 2.5, "color": "#000000"},
                     "encoding": {"x": {"field": "sx", "type": "quantitative", "scale": {"domain": [0.37, 14.63], "nice": false, "zero": false}, "axis": {"title": null, "values": [1, 2, 3, 4, 5, 6, 7, 8, 9, 10, 11, 12, 13, 14], "labels": false, "tickSize": 8, "tickWidth": 3, "domainWidth": 3}},
                       "y": {"field": "y0", "type": "quantitative", "scale": {"domain": [0, 200], "nice": false}, "axis": {"title": "Normalized E-GFP MFI (%)", "values": [0, 100, 200], "tickSize": 8, "tickWidth": 3, "domainWidth": 3, "titlePadding": 9}},
                       "y2": {"field": "y1"}}},
                    {"data": {"name": "dPoints"}, "mark": {"type": "circle", "size": 85, "stroke": "#000000", "strokeWidth": 1, "opacity": 1},
                     "encoding": {"x": {"field": "x", "type": "quantitative"}, "y": {"field": "v", "type": "quantitative"},
                       "color": {"field": "group", "type": "nominal", "legend": null, "scale": {"domain": ["Vorinostat", "Romidepsin", "Entinostat", "Tacedinaline", "Mocetinostat", "DMSO", "TNF-α", "pan-HDACi", "romidepsin", "class I HDACi", "combination"], "range": ["#3d5ca9", "#5db646", "#ed3b26", "#ed3b26", "#ed3b26", "#ffffff", "#000000", "#3d5ca9", "#5db646", "#ed3b26", "#8b2b8e"]}}}},
                    {"data": {"name": "dMeans"}, "mark": {"type": "tick", "orient": "horizontal", "size": 30, "thickness": 2.5, "color": "#000000", "opacity": 1},
                     "encoding": {"x": {"field": "cat", "type": "quantitative"}, "y": {"field": "mean", "type": "quantitative"}}},
                    {"data": {"name": "dMeans"}, "mark": {"type": "rule", "strokeWidth": 1.5, "color": "#000000"},
                     "encoding": {"x": {"field": "cat", "type": "quantitative"}, "y": {"field": "lo", "type": "quantitative"}, "y2": {"field": "hi"}}},
                    {"data": {"name": "dMeans"}, "mark": {"type": "tick", "orient": "horizontal", "size": 15, "thickness": 1.5, "color": "#000000", "opacity": 1},
                     "encoding": {"x": {"field": "cat", "type": "quantitative"}, "y": {"field": "lo", "type": "quantitative"}}},
                    {"data": {"name": "dMeans"}, "mark": {"type": "tick", "orient": "horizontal", "size": 15, "thickness": 1.5, "color": "#000000", "opacity": 1},
                     "encoding": {"x": {"field": "cat", "type": "quantitative"}, "y": {"field": "hi", "type": "quantitative"}}},
                    {"data": {"name": "dBars"}, "mark": {"type": "rule", "strokeWidth": 5, "color": "#000000"},
                     "encoding": {"x": {"field": "x", "type": "quantitative"}, "x2": {"field": "x2"}, "y": {"field": "y", "type": "quantitative"}}},
                    {"data": {"name": "dBrackets"}, "mark": {"type": "rule", "strokeWidth": 1, "color": "#000000"},
                     "encoding": {"x": {"field": "x", "type": "quantitative"}, "x2": {"field": "x2"}, "y": {"field": "y", "type": "quantitative"}, "y2": {"field": "y2"}}},
                    {"data": {"name": "dStars"}, "mark": {"type": "text", "fontSize": 13, "baseline": "middle", "color": "#000000"},
                     "encoding": {"x": {"field": "x", "type": "quantitative"}, "y": {"field": "y", "type": "quantitative"}, "text": {"field": "label"}}}
                  ]
                },
                {
                  "title": {"text": "e", "dx": -97, "offset": -13},
                  "width": 522, "height": 156,
                  "layer": [
                    {"data": {"values": [{"sx": 8.5, "y0": 0, "y1": 117}, {"sx": 11.5, "y0": 0, "y1": 117}]}, "mark": {"type": "rule", "strokeDash": [2.5, 2.5], "strokeWidth": 2.5, "color": "#000000"},
                     "encoding": {"x": {"field": "sx", "type": "quantitative", "scale": {"domain": [0.37, 14.63], "nice": false, "zero": false}, "axis": {"title": null, "values": [1, 2, 3, 4, 5, 6, 7, 8, 9, 10, 11, 12, 13, 14], "labelAngle": -90, "labelFontSize": 17, "labelPadding": 4, "labelFlush": false, "labelExpr": "['DMSO','TNF-α','Vorinostat','Panobinostat','Romidepsin','Entinostat','Tacedinaline','Mocetinostat','Entinostat','Tacedinaline','Mocetinostat','Entinostat','Tacedinaline','Mocetinostat'][round(datum.value) - 1]", "tickSize": 8, "tickWidth": 3, "domainWidth": 3}},
                       "y": {"field": "y0", "type": "quantitative", "scale": {"domain": [0, 150], "nice": false}, "axis": {"title": "Cell viability (%)", "values": [0, 50, 100, 150], "tickSize": 8, "tickWidth": 3, "domainWidth": 3, "titlePadding": 9}},
                       "y2": {"field": "y1"}}},
                    {"data": {"name": "ePoints"}, "mark": {"type": "circle", "size": 85, "stroke": "#000000", "strokeWidth": 1, "opacity": 1},
                     "encoding": {"x": {"field": "x", "type": "quantitative"}, "y": {"field": "v", "type": "quantitative"},
                       "color": {"field": "group", "type": "nominal", "legend": null, "scale": {"domain": ["Vorinostat", "Romidepsin", "Entinostat", "Tacedinaline", "Mocetinostat", "DMSO", "TNF-α", "pan-HDACi", "romidepsin", "class I HDACi", "combination"], "range": ["#3d5ca9", "#5db646", "#ed3b26", "#ed3b26", "#ed3b26", "#ffffff", "#000000", "#3d5ca9", "#5db646", "#ed3b26", "#8b2b8e"]}}}},
                    {"data": {"name": "eMeans"}, "mark": {"type": "tick", "orient": "horizontal", "size": 30, "thickness": 2.5, "color": "#000000", "opacity": 1},
                     "encoding": {"x": {"field": "cat", "type": "quantitative"}, "y": {"field": "mean", "type": "quantitative"}}},
                    {"data": {"name": "eMeans"}, "mark": {"type": "rule", "strokeWidth": 1.5, "color": "#000000"},
                     "encoding": {"x": {"field": "cat", "type": "quantitative"}, "y": {"field": "lo", "type": "quantitative"}, "y2": {"field": "hi"}}},
                    {"data": {"name": "eMeans"}, "mark": {"type": "tick", "orient": "horizontal", "size": 15, "thickness": 1.5, "color": "#000000", "opacity": 1},
                     "encoding": {"x": {"field": "cat", "type": "quantitative"}, "y": {"field": "lo", "type": "quantitative"}}},
                    {"data": {"name": "eMeans"}, "mark": {"type": "tick", "orient": "horizontal", "size": 15, "thickness": 1.5, "color": "#000000", "opacity": 1},
                     "encoding": {"x": {"field": "cat", "type": "quantitative"}, "y": {"field": "hi", "type": "quantitative"}}},
                    {"data": {"name": "eBars"}, "mark": {"type": "rule", "strokeWidth": 5, "color": "#000000"},
                     "encoding": {"x": {"field": "x", "type": "quantitative"}, "x2": {"field": "x2"}, "y": {"field": "y", "type": "quantitative"}}},
                    {"data": {"name": "eBrackets"}, "mark": {"type": "rule", "strokeWidth": 1, "color": "#000000"},
                     "encoding": {"x": {"field": "x", "type": "quantitative"}, "x2": {"field": "x2"}, "y": {"field": "y", "type": "quantitative"}, "y2": {"field": "y2"}}},
                    {"data": {"name": "eStars"}, "mark": {"type": "text", "fontSize": 15, "baseline": "middle", "color": "#000000"},
                     "encoding": {"x": {"field": "x", "type": "quantitative"}, "y": {"field": "y", "type": "quantitative"}, "text": {"field": "label"}}},
                    {"data": {"name": "combos"}, "mark": {"type": "rule", "strokeWidth": 1, "color": "#000000"},
                     "encoding": {"x": {"field": "from", "type": "quantitative"}, "x2": {"field": "to"}, "y": {"datum": -116}}},
                    {"data": {"name": "combos"}, "mark": {"type": "text", "fontSize": 17, "baseline": "middle", "color": "#000000"},
                     "encoding": {"x": {"field": "mid", "type": "quantitative"}, "y": {"datum": -128}, "text": {"field": "label"}}}
                  ]
                }
              ]
            }
          ]
        }
      ]
    }
  ]
}
